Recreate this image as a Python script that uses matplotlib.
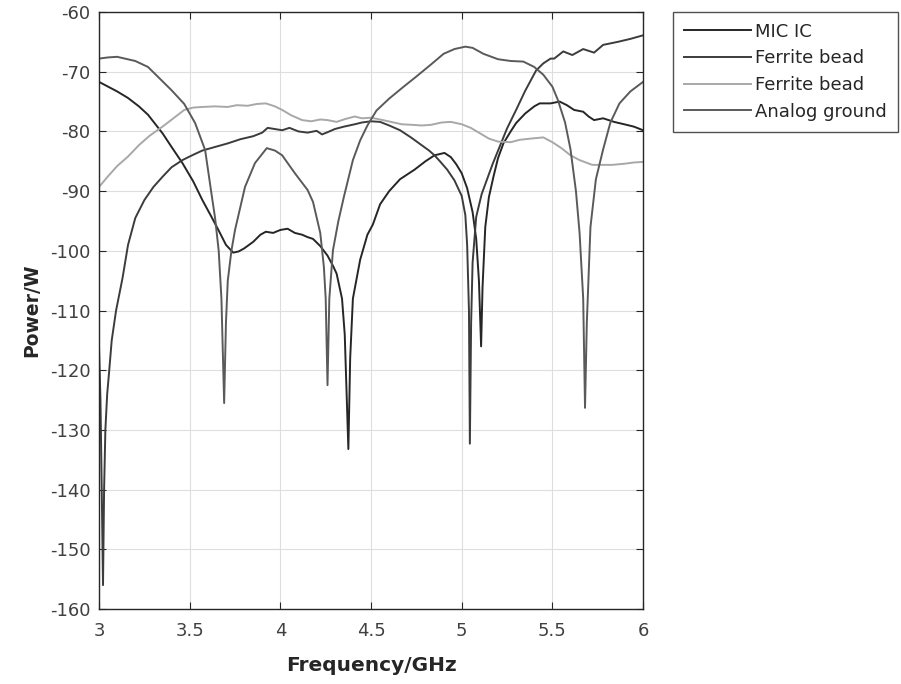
import matplotlib
matplotlib.use("Agg")
import matplotlib.pyplot as plt

# curve data (frequency in GHz, power)
mic_f = [3.00, 3.05, 3.10, 3.16, 3.22, 3.27, 3.35, 3.40, 3.46, 3.52, 3.57, 3.62, 3.66, 3.70,
         3.74, 3.77, 3.80, 3.85, 3.89, 3.92, 3.96, 4.00, 4.04, 4.08, 4.12, 4.15, 4.18, 4.22,
         4.26, 4.29, 4.31, 4.34, 4.355, 4.375, 4.385, 4.40, 4.44, 4.48, 4.51, 4.55, 4.60, 4.66,
         4.74, 4.80, 4.85, 4.905, 4.94, 4.97, 5.00, 5.03, 5.06, 5.08, 5.095, 5.107, 5.115, 5.13,
         5.15, 5.175, 5.20, 5.23, 5.27, 5.30, 5.35, 5.40, 5.43, 5.49, 5.54, 5.58, 5.62, 5.67,
         5.70, 5.73, 5.78, 5.84, 5.91, 5.95, 6.00]
mic_p = [-71.7, -72.5, -73.3, -74.4, -75.8, -77.2, -80.3, -82.6, -85.3, -88.4, -91.5, -94.3, -96.6, -99.0,
         -100.3, -100.1, -99.6, -98.5, -97.3, -96.8, -97.0, -96.5, -96.3, -97.0, -97.3, -97.7, -98.0, -99.2,
         -100.8, -102.5, -103.8, -108.0, -114.0, -133.2, -118.0, -108.0, -101.5, -97.3, -95.6, -92.2, -90.0, -88.0,
         -86.4, -85.0, -84.0, -83.6, -84.3, -85.5, -87.0, -89.5, -93.5, -98.0, -105.0, -116.0, -106.0, -96.0,
         -91.0, -87.6, -84.5, -82.0, -80.0, -78.6, -77.0, -75.8, -75.3, -75.3, -75.0, -75.6, -76.4, -76.7,
         -77.5, -78.1, -77.8, -78.4, -78.9, -79.2, -79.8]

bead1_f = [3.000, 3.008, 3.015, 3.022, 3.028, 3.035, 3.045, 3.055, 3.07, 3.094, 3.13, 3.16, 3.20, 3.25,
           3.30, 3.35, 3.40, 3.46, 3.52, 3.57, 3.64, 3.71, 3.78, 3.85, 3.90, 3.93, 3.97, 4.01,
           4.05, 4.10, 4.15, 4.20, 4.23, 4.27, 4.30, 4.35, 4.41, 4.45, 4.50, 4.55, 4.60, 4.66,
           4.72, 4.77, 4.82, 4.85, 4.88, 4.92, 4.96, 5.00, 5.02, 5.03, 5.04, 5.045, 5.052, 5.06,
           5.08, 5.11, 5.14, 5.17, 5.21, 5.25, 5.30, 5.35, 5.41, 5.45, 5.49, 5.51, 5.56, 5.61,
           5.67, 5.73, 5.78, 5.86, 5.93, 6.00]
bead1_p = [-116.0, -125.0, -140.0, -156.0, -140.0, -130.0, -124.0, -120.5, -115.0, -110.0, -104.5, -99.0, -94.5, -91.5,
           -89.3, -87.6, -86.0, -84.8, -83.9, -83.2, -82.6, -82.0, -81.3, -80.8, -80.2, -79.4, -79.6, -79.8,
           -79.4, -80.0, -80.2, -79.9, -80.5, -80.0, -79.6, -79.2, -78.8, -78.5, -78.3, -78.4, -79.0, -79.8,
           -81.0, -82.1, -83.2, -84.0, -85.0, -86.4, -88.2, -90.8, -94.0, -99.0, -110.0, -132.3, -112.0, -102.0,
           -94.3, -90.5, -88.0, -85.5, -82.5, -79.5, -76.4, -73.2, -69.8, -68.6, -67.8, -67.8, -66.6, -67.2,
           -66.2, -66.8, -65.5, -65.0, -64.5, -63.9]

bead2_f = [3.00, 3.05, 3.10, 3.16, 3.22, 3.28, 3.35, 3.41, 3.47, 3.52, 3.57, 3.64, 3.71, 3.76,
           3.82, 3.87, 3.92, 3.97, 4.01, 4.06, 4.12, 4.17, 4.22, 4.26, 4.31, 4.36, 4.41, 4.45,
           4.50, 4.55, 4.61, 4.67, 4.73, 4.78, 4.83, 4.89, 4.94, 5.00, 5.05, 5.10, 5.15, 5.20,
           5.27, 5.32, 5.38, 5.45, 5.50, 5.55, 5.60, 5.65, 5.72, 5.78, 5.83, 5.90, 5.95, 6.00]
bead2_p = [-89.3, -87.5, -85.8, -84.2, -82.3, -80.7, -79.2, -77.8, -76.4, -76.0, -75.9, -75.8, -75.9, -75.6,
           -75.7, -75.4, -75.3, -75.8, -76.4, -77.3, -78.1, -78.3, -78.0, -78.1, -78.4, -77.9, -77.5, -77.8,
           -77.7, -78.0, -78.4, -78.8, -78.9, -79.0, -78.9, -78.5, -78.4, -78.8, -79.4, -80.3, -81.2, -81.7,
           -81.8, -81.4, -81.2, -81.0, -81.8, -82.8, -84.0, -84.8, -85.6, -85.6, -85.6, -85.4, -85.2, -85.1]

ground_f = [3.00, 3.05, 3.10, 3.20, 3.27, 3.33, 3.40, 3.47, 3.53, 3.585, 3.62, 3.64, 3.66, 3.675,
            3.69, 3.70, 3.71, 3.73, 3.75, 3.805, 3.86, 3.925, 3.97, 4.01, 4.08, 4.15, 4.18, 4.22,
            4.24, 4.25, 4.26, 4.27, 4.29, 4.32, 4.35, 4.40, 4.44, 4.48, 4.53, 4.60, 4.68, 4.75,
            4.83, 4.90, 4.96, 5.02, 5.06, 5.12, 5.20, 5.27, 5.34, 5.40, 5.45, 5.50, 5.53, 5.57,
            5.60, 5.63, 5.65, 5.67, 5.68, 5.69, 5.71, 5.74, 5.78, 5.82, 5.87, 5.93, 6.00]
ground_p = [-67.8, -67.6, -67.5, -68.2, -69.2, -71.0, -73.1, -75.4, -78.6, -83.1, -90.4, -94.5, -100.0, -108.0,
            -125.5, -112.0, -105.0, -100.0, -96.5, -89.3, -85.3, -82.8, -83.2, -84.0, -87.0, -89.8, -91.8, -97.0,
            -102.7, -108.0, -122.5, -108.0, -99.9, -95.0, -91.0, -84.8, -81.5, -79.0, -76.5, -74.5, -72.5, -70.8,
            -68.8, -67.0, -66.2, -65.8, -66.0, -67.0, -67.9, -68.2, -68.3, -69.2, -70.5, -72.5, -74.7, -78.5,
            -83.0, -90.0, -97.0, -108.0, -126.3, -112.0, -96.0, -88.0, -83.0, -78.5, -75.3, -73.3, -71.7]

labels = ["MIC IC", "Ferrite bead", "Ferrite bead", "Analog ground"]
x_ticks = [3, 3.5, 4, 4.5, 5, 5.5, 6]
x_tick_labels = ["3", "3.5", "4", "4.5", "5", "5.5", "6"]
y_ticks = list(range(-160, -59, 10))

plt.rcParams["font.family"] = ["DejaVu Sans"]
plt.rcParams["axes.unicode_minus"] = False

fig = plt.figure(figsize=(9.01, 6.84), dpi=100)
ax = fig.add_axes([0.1099, 0.1096, 0.6038, 0.8728])

ax.plot(mic_f, mic_p, color="#262626", lw=1.4, label=labels[0])
ax.plot(bead1_f, bead1_p, color="#3c3c3c", lw=1.4, label=labels[1])
ax.plot(bead2_f, bead2_p, color="#a8a8a8", lw=1.4, label=labels[2])
ax.plot(ground_f, ground_p, color="#5a5a5a", lw=1.4, label=labels[3])

ax.set_xlim(3, 6)
ax.set_ylim(-160, -60)
ax.set_xticks(x_ticks)
ax.set_xticklabels(x_tick_labels)
ax.set_yticks(y_ticks)
ax.grid(True, color="#dedede", lw=0.8)
ax.set_axisbelow(True)
ax.tick_params(direction="in", top=True, right=True, length=5, width=0.8,
               colors="#262626", labelcolor="#404040", labelsize=13)
ax.tick_params(axis="x", pad=9)
ax.tick_params(axis="y", pad=6)
for s in ax.spines.values():
    s.set_color("#262626")
    s.set_linewidth(1.0)

ax.set_xlabel("Frequency/GHz", fontsize=14.5, fontweight="bold", color="#262626", labelpad=12)
ax.set_ylabel("Power/W", fontsize=13.5, fontweight="bold", color="#262626", labelpad=6)

leg = fig.legend(loc="upper left", bbox_to_anchor=(0.747, 0.9825), borderaxespad=0,
                 fontsize=13, frameon=True, fancybox=False, edgecolor="#262626",
                 handlelength=3.7, handletextpad=0.25, labelspacing=0.48, borderpad=0.6)
leg.get_frame().set_linewidth(1.0)
for t in leg.get_texts():
    t.set_color("#262626")

fig.savefig("out.png", dpi=100)
